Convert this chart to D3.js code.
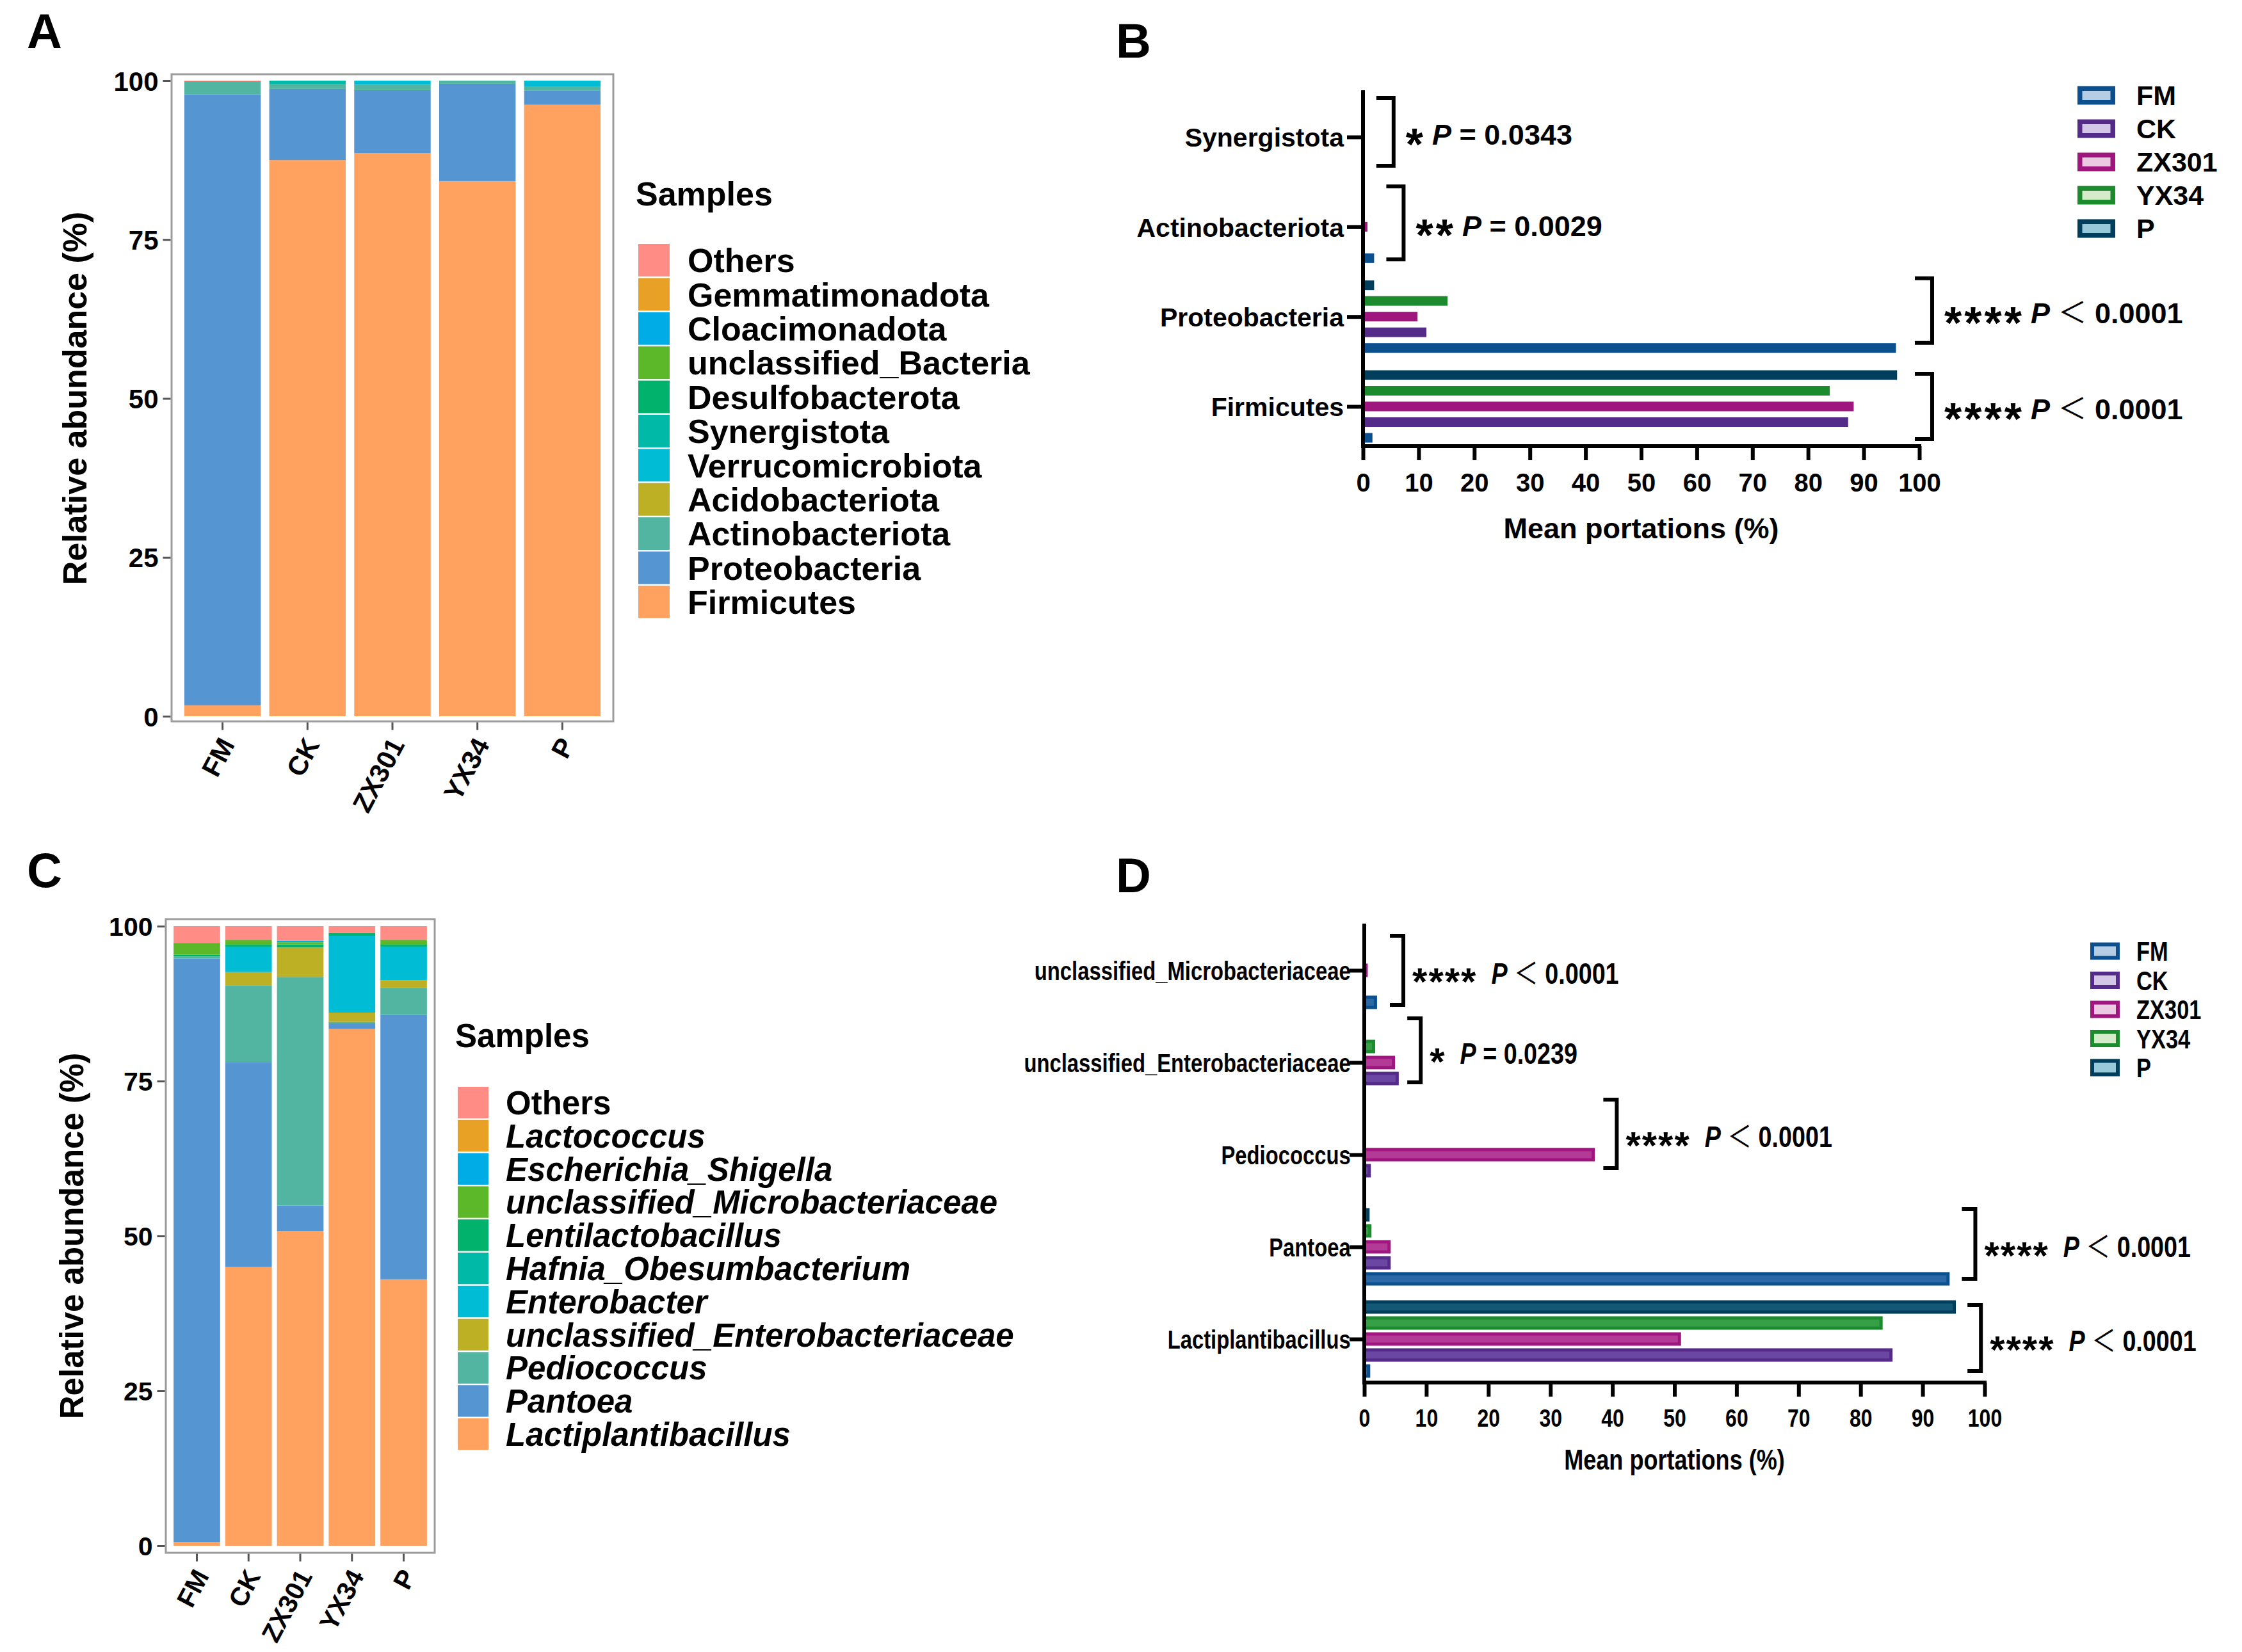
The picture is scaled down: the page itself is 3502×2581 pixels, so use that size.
<!DOCTYPE html>
<html lang="en">
<head>
<meta charset="UTF-8">
<title>Microbial composition</title>
<script src="https://cdnjs.cloudflare.com/ajax/libs/d3/7.8.5/d3.min.js"></script>
<style>
  body { margin: 0; background: #fff; }
  svg text { font-family: "Liberation Sans", Arial, Helvetica, sans-serif; font-weight: bold; fill: #000; }
</style>
</head>
<body>
<svg id="figure" width="3502" height="2581"></svg>
<script>
// ---------- data ----------
var samples = ["FM", "CK", "ZX301", "YX34", "P"];
var barOrder = ["P", "YX34", "ZX301", "CK", "FM"];      // top -> bottom inside a group

// panel A, phylum level, stack order bottom -> top
var phyla = ["Firmicutes", "Proteobacteria", "Actinobacteriota", "Acidobacteriota", "Verrucomicrobiota",
  "Synergistota", "Desulfobacterota", "unclassified_Bacteria", "Cloacimonadota", "Gemmatimonadota", "Others"];
var phylaFM    = [1.7, 96.1, 2.1, 0, 0, 0, 0, 0, 0, 0, 0.1];
var phylaCK    = [87.5, 11.2, 0.8, 0, 0, 0.5, 0, 0, 0, 0, 0];
var phylaZX301 = [88.6, 9.9, 0.85, 0, 0.65, 0, 0, 0, 0, 0, 0];
var phylaYX34  = [84.2, 15.3, 0.5, 0, 0, 0, 0, 0, 0, 0, 0];
var phylaP     = [96.2, 2.2, 0.7, 0, 0.9, 0, 0, 0, 0, 0, 0];

// panel C, genus level, stack order bottom -> top
var genera = ["Lactiplantibacillus", "Pantoea", "Pediococcus", "unclassified_Enterobacteriaceae", "Enterobacter",
  "Hafnia_Obesumbacterium", "Lentilactobacillus", "unclassified_Microbacteriaceae", "Escherichia_Shigella", "Lactococcus", "Others"];
var generaFM    = [0.6, 94.2, 0.3, 0, 0, 0, 0.3, 1.9, 0, 0, 2.7];
var generaCK    = [45.0, 33.0, 12.4, 2.2, 4.1, 0, 0.3, 0.8, 0, 0, 2.2];
var generaZX301 = [50.8, 4.1, 36.9, 4.75, 0, 0, 0.5, 0.35, 0.25, 0, 2.35];
var generaYX34  = [83.4, 0.9, 0.25, 1.5, 12.4, 0, 0.45, 0, 0, 0, 1.1];
var generaP     = [43.0, 42.7, 4.3, 1.3, 5.4, 0, 0.3, 0.8, 0, 0, 2.2];

var stackColors = ["#FFA15F", "#5596D2", "#52B5A1", "#BDB024", "#00BDD5", "#00B9A6",
  "#00B26C", "#5CB829", "#00ACE6", "#E9A125", "#FF8C85"];

// panel B, mean portions, categories top -> bottom
var phylumCats = ["Synergistota", "Actinobacteriota", "Proteobacteria", "Firmicutes"];
var meanPhylumFM    = [0, 2.0, 95.8, 1.7];
var meanPhylumCK    = [0.1, 0.1, 11.4, 87.2];
var meanPhylumZX301 = [0, 0.8, 9.8, 88.2];
var meanPhylumYX34  = [0, 0.2, 15.2, 83.9];
var meanPhylumP     = [0.2, 0.3, 2.0, 96.0];
var phylumStars  = ["*", "**", "****", "****"];
var phylumPText  = ["P = 0.0343", "P = 0.0029", "P ＜ 0.0001", "P ＜ 0.0001"];
var phylumBracketAt = [5.5, 7.3, 102.3, 102.3];           // in % units of the x axis

// panel D, mean portions, categories top -> bottom
var genusCats = ["unclassified_Microbacteriaceae", "unclassified_Enterobacteriaceae", "Pediococcus", "Pantoea", "Lactiplantibacillus"];
var meanGenusFM    = [1.8, 0, 0, 94.1, 0.7];
var meanGenusCK    = [0, 5.3, 0.8, 4.0, 84.9];
var meanGenusZX301 = [0.3, 4.7, 36.9, 4.0, 50.8];
var meanGenusYX34  = [0, 1.5, 0, 0.9, 83.3];
var meanGenusP     = [0, 0, 0, 0.6, 95.1];
var genusStars  = ["****", "*", "****", "****", "****"];
var genusPText  = ["P ＜ 0.0001", "P = 0.0239", "P ＜ 0.0001", "P ＜ 0.0001", "P ＜ 0.0001"];
var genusBracketAt = [6.3, 9.1, 40.7, 98.5, 99.4];

var groupColors = { FM: "#0b4f8e", CK: "#552b8a", ZX301: "#a0167f", YX34: "#1b8b2e", P: "#003e5c" };
var groupLight  = { FM: "#b6cde6", CK: "#d4c6e6", ZX301: "#ebc9e2", YX34: "#d5ebc9", P: "#98c9da" };
var groupMid    = { FM: "#2a68a8", CK: "#6a47a2", ZX301: "#b33a97", YX34: "#36a047", P: "#135877" };

var svg = d3.select("#figure");

function panelLetter(t, x, y) {
  svg.append("text").attr("x", x).attr("y", y).attr("font-size", 76).text(t);
}

// ---------- stacked composition panels ----------
function stackedPanel(o) {
  var rows = samples.map(function (s, i) {
    var r = { sample: s };
    o.taxa.forEach(function (t, j) { r[t] = o.values[i][j]; });
    return r;
  });
  var series = d3.stack().keys(o.taxa)(rows);
  var x = d3.scaleBand().domain(samples).range([o.left, o.right]).paddingInner(0.1).paddingOuter(0.15);
  var y = d3.scaleLinear().domain([0, 100]).range([o.y0, o.y100]);
  var color = d3.scaleOrdinal().domain(o.taxa).range(stackColors);

  svg.append("g").selectAll("g").data(series).join("g")
    .attr("fill", function (d) { return color(d.key); })
    .selectAll("rect").data(function (d) { return d; }).join("rect")
    .attr("x", function (d) { return x(d.data.sample); })
    .attr("width", x.bandwidth())
    .attr("y", function (d) { return y(d[1]); })
    .attr("height", function (d) { return Math.max(0, y(d[0]) - y(d[1])); });

  svg.append("rect").attr("x", o.left).attr("y", o.top)
    .attr("width", o.right - o.left).attr("height", o.bottom - o.top)
    .attr("fill", "none").attr("stroke", "#9c9c9c").attr("stroke-width", 3);

  var ya = svg.append("g").attr("transform", "translate(" + (o.left - 1.5) + ",0)")
    .call(d3.axisLeft(y).tickValues([0, 25, 50, 75, 100]).tickSize(12).tickPadding(7));
  ya.select(".domain").remove();
  ya.selectAll(".tick line").attr("stroke", "#555").attr("stroke-width", 3);
  ya.selectAll(".tick text").attr("font-size", o.tickFont).attr("dy", "0.36em");

  var xa = svg.append("g").attr("transform", "translate(0," + (o.bottom + 1.5) + ")")
    .call(d3.axisBottom(x).tickSize(12).tickFormat(""));
  xa.select(".domain").remove();
  xa.selectAll(".tick line").attr("stroke", "#555").attr("stroke-width", 3);
  svg.append("g").selectAll("text").data(samples).join("text")
    .attr("transform", function (d) {
      return "translate(" + (x(d) + x.bandwidth() / 2 + 20) + "," + (o.bottom + 36) + ") rotate(-62)";
    })
    .attr("text-anchor", "end").attr("font-size", o.tickFont).text(function (d) { return d; });

  svg.append("text")
    .attr("transform", "translate(" + o.titleX + "," + ((o.y0 + o.y100) / 2) + ") rotate(-90)")
    .attr("text-anchor", "middle").attr("dy", "0.35em").attr("font-size", o.titleFont)
    .text("Relative abundance (%)");

  // legend, reverse of stacking order
  var leg = svg.append("g");
  leg.append("text").attr("x", o.legX - 4).attr("y", o.legTitleY).attr("font-size", o.legFont).text("Samples");
  var items = o.taxa.slice().reverse();
  var it = leg.selectAll("g").data(items).join("g")
    .attr("transform", function (d, i) { return "translate(" + o.legX + "," + (o.legTop + i * o.legStep) + ")"; });
  it.append("rect").attr("width", o.keyW).attr("height", o.legStep - 2.5).attr("fill", function (d) { return color(d); });
  it.append("text").attr("x", o.labelX - o.legX).attr("y", (o.legStep - 2.5) / 2).attr("dy", "0.36em")
    .attr("font-size", o.legFont)
    .attr("font-style", function (d) { return o.italic && d !== "Others" ? "italic" : "normal"; })
    .text(function (d) { return d; });
}

// ---------- grouped horizontal bar panels ----------
function withText(sel, str, squeeze) {
  // italic P, fullwidth comparison sign drawn lighter
  sel.append("tspan").attr("font-style", "italic").text(str.charAt(0));
  str.slice(1).split(/(＜)/).forEach(function (part) {
    if (!part) return;
    var t = sel.append("tspan").text(part);
    if (part === "＜") t.attr("font-weight", "normal").attr("font-family", "'Noto Sans CJK SC', 'Liberation Sans', sans-serif");
  });
}

function groupedPanel(o) {
  var g = svg.append("g");
  var sq = o.squeeze ? " scale(" + o.squeeze + ",1)" : "";
  var x = d3.scaleLinear().domain([0, 100]).range([o.x0, o.x100]);
  var y = d3.scalePoint().domain(o.cats).range([o.catTop, o.catBottom]);
  var inner = d3.scalePoint().domain(barOrder).range([-2 * o.barStep, 2 * o.barStep]);

  var rows = [];
  samples.forEach(function (s, i) {
    o.values[i].forEach(function (v, j) { if (v > 0) rows.push({ sample: s, cat: o.cats[j], value: v }); });
  });
  g.append("g").selectAll("rect").data(rows).join("rect")
    .attr("x", x(0))
    .attr("y", function (d) { return y(d.cat) + inner(d.sample) - o.barH / 2; })
    .attr("width", function (d) { return x(d.value) - x(0); })
    .attr("height", o.barH)
    .attr("fill", function (d) { return o.outlined ? groupMid[d.sample] : groupColors[d.sample]; })
    .attr("stroke", function (d) { return o.outlined ? groupColors[d.sample] : "none"; })
    .attr("stroke-width", o.outlined ? 5 : 0);

  // axes
  var xa = g.append("g").attr("transform", "translate(0," + o.axisY + ")")
    .call(d3.axisBottom(x).tickValues(d3.range(0, 101, 10)).tickSize(o.tickLen).tickFormat(d3.format("d")));
  xa.select(".domain").remove();
  xa.selectAll(".tick line").attr("stroke", "#000").attr("stroke-width", 6);
  xa.selectAll(".tick text").attr("y", o.tickLabelY).attr("dy", "0.36em")
    .attr("font-size", o.tickFont).attr("transform", o.squeeze ? "scale(" + o.squeeze + ",1)" : null);

  var ya = g.append("g").attr("transform", "translate(" + x(0) + ",0)")
    .call(d3.axisLeft(y).tickSize(o.catTick).tickPadding(o.catPad));
  ya.select(".domain").remove();
  ya.selectAll(".tick line").attr("stroke", "#000").attr("stroke-width", 6);
  ya.selectAll(".tick text").attr("font-size", o.catFont).attr("dy", "0.36em")
    .attr("transform", o.squeeze ? "scale(" + o.squeeze + ",1)" : null);

  g.append("line").attr("x1", x(0)).attr("x2", x(0)).attr("y1", o.axisTop).attr("y2", o.axisY + 3)
    .attr("stroke", "#000").attr("stroke-width", 6);
  g.append("line").attr("x1", x(0) - 3).attr("x2", x(100) + 3).attr("y1", o.axisY).attr("y2", o.axisY)
    .attr("stroke", "#000").attr("stroke-width", 6);

  g.append("text").attr("transform", "translate(" + ((o.x0 + o.x100) / 2) + "," + o.titleY + ")" + sq)
    .attr("text-anchor", "middle").attr("font-size", o.titleFont).text("Mean portations (%)");

  // significance brackets
  o.cats.forEach(function (c, i) {
    var bx = x(o.bracketAt[i]);
    var top = y(c) + o.bracketExtent[i][0], bot = y(c) + o.bracketExtent[i][1];
    g.append("path")
      .attr("d", "M" + (bx - o.arm) + "," + top + "H" + bx + "V" + bot + "H" + (bx - o.arm))
      .attr("fill", "none").attr("stroke", "#000").attr("stroke-width", 6);
    var yc = (top + bot) / 2 + 4;
    var st = g.append("text").attr("x", bx + o.starDx).attr("y", yc + 0.573 * o.starFont)
      .attr("font-size", o.starFont).attr("letter-spacing", o.starGap).text(o.stars[i]);
    var sw = st.node().getComputedTextLength();
    var pt = g.append("text").attr("transform", "translate(" + (bx + o.starDx + sw + o.pGap) + "," + yc + ")" + sq)
      .attr("dy", "0.36em").attr("font-size", o.pFont);
    withText(pt, o.ptext[i]);
  });

  // legend
  var it = g.append("g").selectAll("g").data(samples).join("g")
    .attr("transform", function (d, i) { return "translate(0," + (o.legTop + i * o.legStep) + ")"; });
  it.append("rect").attr("x", o.legX + o.keyStroke / 2).attr("y", -(o.keyH - o.keyStroke) / 2)
    .attr("width", o.keyW - o.keyStroke).attr("height", o.keyH - o.keyStroke)
    .attr("fill", function (d) { return groupLight[d]; })
    .attr("stroke", function (d) { return groupColors[d]; }).attr("stroke-width", o.keyStroke);
  it.append("text").attr("transform", "translate(" + o.legLabelX + ",0)" + sq)
    .attr("dy", "0.36em").attr("font-size", o.legFont).text(function (d) { return d; });
}

// ---------- draw ----------
panelLetter("A", 42, 75);
panelLetter("B", 1743, 90);
panelLetter("C", 42, 1386);
panelLetter("D", 1743, 1394);

stackedPanel({
  taxa: phyla, values: [phylaFM, phylaCK, phylaZX301, phylaYX34, phylaP],
  left: 268, right: 958, top: 116, bottom: 1127, y0: 1119, y100: 126,
  tickFont: 42, titleX: 117, titleFont: 52,
  legX: 997, keyW: 49, legTop: 381, legStep: 53.4, labelX: 1074, legTitleY: 321, legFont: 52, italic: false
});

stackedPanel({
  taxa: genera, values: [generaFM, generaCK, generaZX301, generaYX34, generaP],
  left: 259, right: 679, top: 1436, bottom: 2426, y0: 2415, y100: 1447,
  tickFont: 41, titleX: 112, titleFont: 51,
  legX: 715, keyW: 48, legTop: 1698, legStep: 51.8, labelX: 790, legTitleY: 1636, legFont: 51, italic: true
});

groupedPanel({
  cats: phylumCats, values: [meanPhylumFM, meanPhylumCK, meanPhylumZX301, meanPhylumYX34, meanPhylumP],
  x0: 2129, x100: 2998, catTop: 214, catBottom: 635, axisTop: 141, axisY: 697,
  barStep: 24.5, barH: 15, outlined: false,
  tickLen: 22, tickLabelY: 57, tickFont: 40, catTick: 25, catPad: 5, catFont: 41,
  titleY: 841, titleFont: 45,
  bracketAt: phylumBracketAt, bracketExtent: [[-61, 45], [-63, 51], [-60, 41], [-51, 51]], arm: 27,
  stars: phylumStars, ptext: phylumPText, starDx: 19, starFont: 70, starGap: 4, pGap: 10, pFont: 45,
  legX: 3245, keyW: 59, keyH: 29, keyStroke: 7.5, legTop: 149, legStep: 52, legLabelX: 3337, legFont: 43
});

groupedPanel({
  cats: genusCats, values: [meanGenusFM, meanGenusCK, meanGenusZX301, meanGenusYX34, meanGenusP],
  x0: 2131, x100: 3100, catTop: 1516, catBottom: 2092, axisTop: 1443, axisY: 2160,
  barStep: 25, barH: 16, outlined: true, squeeze: 0.82,
  tickLen: 22, tickLabelY: 55, tickFont: 39, catTick: 23, catPad: 3, catFont: 40,
  titleY: 2296, titleFont: 44,
  bracketAt: genusBracketAt, bracketExtent: [[-54, 54], [-69, 31], [-86, 21], [-59, 50], [-53, 50]], arm: 21,
  stars: genusStars, ptext: genusPText, starDx: 14, starFont: 60, starGap: 2, pGap: 22, pFont: 46,
  legX: 3265, keyW: 46, keyH: 27, keyStroke: 6, legTop: 1486, legStep: 45.5, legLabelX: 3337, legFont: 42
});
</script>
</body>
</html>
